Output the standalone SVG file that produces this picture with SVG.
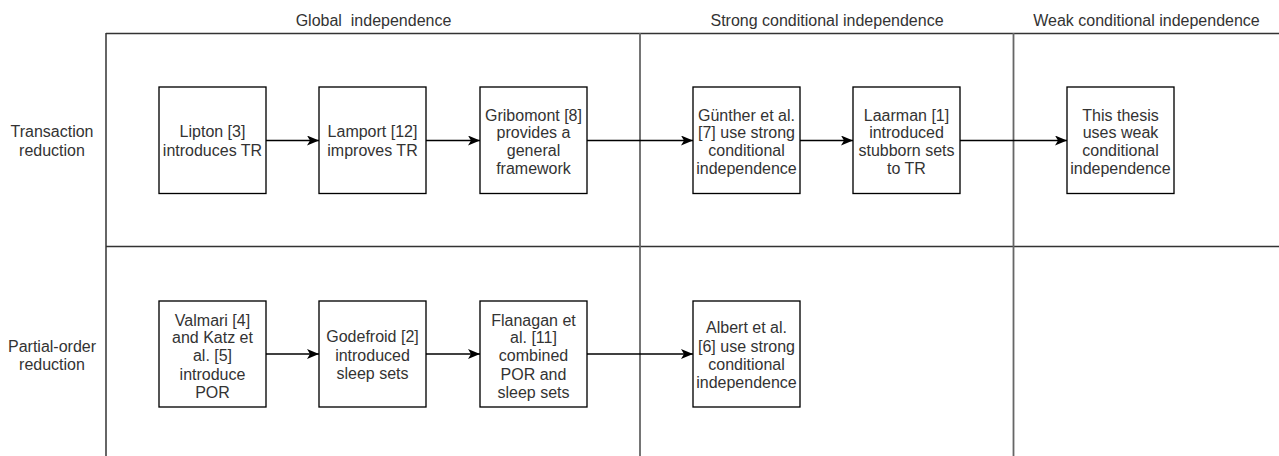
<svg xmlns="http://www.w3.org/2000/svg" width="1279" height="456" viewBox="0 0 1279 456">
<style>
text{font-family:"Liberation Sans",Arial,sans-serif;font-size:16px;fill:#333;text-anchor:middle;white-space:pre}
.box{fill:#fff;stroke:#000;stroke-width:1.33}
.edge{fill:none;stroke:#000;stroke-width:1.33}
.frame{fill:none;stroke:#333;stroke-width:1.5}
.div{fill:none;stroke:#666;stroke-width:1.8}
</style>
<defs>
<marker id="arr" markerUnits="userSpaceOnUse" viewBox="0 0 12 10" refX="12" refY="5" markerWidth="12" markerHeight="10" orient="auto">
<path d="M0,0 L12,5 L0,10 L3,5 Z" fill="#000"/>
</marker>
</defs>
<rect width="1279" height="456" fill="#fff"/>
<g id="lanes">
<line class="frame" x1="106" y1="33.5" x2="1279" y2="33.5"/>
<line class="frame" x1="106" y1="33" x2="106" y2="456"/>
<line class="frame" x1="106" y1="246.5" x2="1279" y2="246.5"/>
<line class="div" x1="640" y1="33" x2="640" y2="456"/>
<line class="div" x1="1013.5" y1="33" x2="1013.5" y2="456" stroke-width="2.5" stroke="#777"/>
<text x="373.5" y="26">Global  independence</text>
<text x="827" y="26">Strong conditional independence</text>
<text x="1146.5" y="26">Weak conditional independence</text>
<text x="52" y="137">Transaction</text>
<text x="52" y="155.5">reduction</text>
<text x="52" y="352">Partial-order</text>
<text x="52" y="369.5">reduction</text>
</g>
<g id="connectors">
<line class="edge" x1="266" y1="140.5" x2="319" y2="140.5" marker-end="url(#arr)"/>
<line class="edge" x1="426" y1="140.5" x2="480" y2="140.5" marker-end="url(#arr)"/>
<line class="edge" x1="587" y1="140.5" x2="693" y2="140.5" marker-end="url(#arr)"/>
<line class="edge" x1="800" y1="140.5" x2="853" y2="140.5" marker-end="url(#arr)"/>
<line class="edge" x1="960" y1="140.5" x2="1067" y2="140.5" marker-end="url(#arr)"/>
<line class="edge" x1="266" y1="354" x2="319" y2="354" marker-end="url(#arr)"/>
<line class="edge" x1="426" y1="354" x2="480" y2="354" marker-end="url(#arr)"/>
<line class="edge" x1="587" y1="354" x2="693" y2="354" marker-end="url(#arr)"/>
</g>
<g id="lipton">
<rect class="box" x="159" y="87" width="107" height="106.5"/>
<text x="212.5" y="137">Lipton [3]</text>
<text x="212.5" y="155.5">introduces TR</text>
</g>
<g id="lamport">
<rect class="box" x="319" y="87" width="107" height="106.5"/>
<text x="372.5" y="137">Lamport [12]</text>
<text x="372.5" y="155.5">improves TR</text>
</g>
<g id="gribomont">
<rect class="box" x="480" y="87" width="107" height="106.5"/>
<text x="533.5" y="120.5">Gribomont [8]</text>
<text x="533.5" y="137.5">provides a</text>
<text x="533.5" y="155.5">general</text>
<text x="533.5" y="174">framework</text>
</g>
<g id="gunther">
<rect class="box" x="693" y="87" width="107" height="106.5"/>
<text x="746.5" y="120.5">Günther et al.</text>
<text x="746.5" y="137.5">[7] use strong</text>
<text x="746.5" y="155.5">conditional</text>
<text x="746.5" y="174">independence</text>
</g>
<g id="laarman">
<rect class="box" x="853" y="87" width="107" height="106.5"/>
<text x="906.5" y="120.5">Laarman [1]</text>
<text x="906.5" y="137.5">introduced</text>
<text x="906.5" y="155.5">stubborn sets</text>
<text x="906.5" y="174">to TR</text>
</g>
<g id="thesis">
<rect class="box" x="1067" y="87" width="107" height="106.5"/>
<text x="1120.5" y="120.5">This thesis</text>
<text x="1120.5" y="137.5">uses weak</text>
<text x="1120.5" y="155.5">conditional</text>
<text x="1120.5" y="174">independence</text>
</g>
<g id="valmari">
<rect class="box" x="159" y="301" width="107" height="106"/>
<text x="212.5" y="325.5">Valmari [4]</text>
<text x="212.5" y="343">and Katz et</text>
<text x="212.5" y="361">al. [5]</text>
<text x="212.5" y="379.5">introduce</text>
<text x="212.5" y="398">POR</text>
</g>
<g id="godefroid">
<rect class="box" x="319" y="301" width="107" height="106"/>
<text x="372.5" y="342">Godefroid [2]</text>
<text x="372.5" y="360.5">introduced</text>
<text x="372.5" y="379">sleep sets</text>
</g>
<g id="flanagan">
<rect class="box" x="480" y="301" width="107" height="106"/>
<text x="533.5" y="325.5">Flanagan et</text>
<text x="533.5" y="343">al. [11]</text>
<text x="533.5" y="361">combined</text>
<text x="533.5" y="379.5">POR and</text>
<text x="533.5" y="398">sleep sets</text>
</g>
<g id="albert">
<rect class="box" x="693" y="301" width="107" height="106"/>
<text x="746.5" y="333">Albert et al.</text>
<text x="746.5" y="351.5">[6] use strong</text>
<text x="746.5" y="370">conditional</text>
<text x="746.5" y="388">independence</text>
</g>
</svg>
